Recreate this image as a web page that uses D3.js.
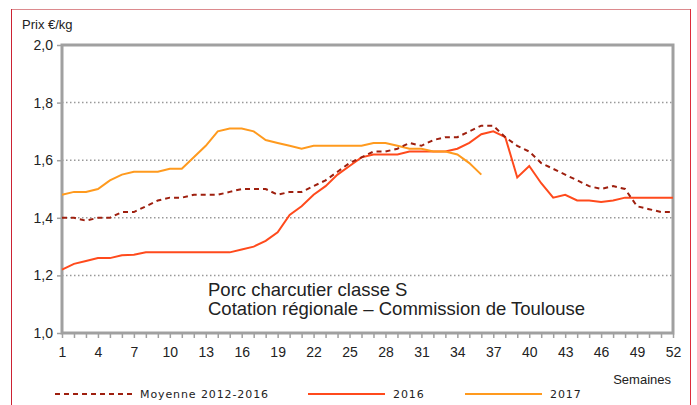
<!DOCTYPE html>
<html>
<head>
<meta charset="utf-8">
<script src="https://cdn.jsdelivr.net/npm/d3@7"></script>
<style>
  body { margin: 0; background: #fff; }
  svg text { font-family: "Liberation Sans", Arial, sans-serif; fill: #222; }
  .legend text { font-family: "DejaVu Sans", sans-serif; font-size: 11px; letter-spacing: 0.9px; }
</style>
</head>
<body>
<div id="chart"></div>
<script>
// weeks 1..52
const weeks = d3.range(1, 53)
const xTickLabels = [1, 4, 7, 10, 13, 16, 19, 22, 25, 28, 31, 34, 37, 40, 43, 46, 49, 52]
const yTicks = [1.0, 1.2, 1.4, 1.6, 1.8, 2.0]

const moyenne = [1.40, 1.40, 1.39, 1.40, 1.40, 1.42, 1.42, 1.44, 1.46, 1.47, 1.47, 1.48, 1.48, 1.48, 1.49, 1.50, 1.50, 1.50, 1.48, 1.49,
	1.49, 1.51, 1.53, 1.56, 1.59, 1.61, 1.63, 1.63, 1.64, 1.66, 1.65, 1.67, 1.68, 1.68, 1.70, 1.72, 1.72, 1.68, 1.65, 1.63,
	1.59, 1.57, 1.55, 1.53, 1.51, 1.50, 1.51, 1.50, 1.44, 1.43, 1.42, 1.42]

const y2016 = [1.22, 1.24, 1.25, 1.26, 1.26, 1.27, 1.272, 1.28, 1.28, 1.28, 1.28, 1.28, 1.28, 1.28, 1.28, 1.29, 1.30, 1.32, 1.35, 1.41,
	1.44, 1.48, 1.51, 1.55, 1.58, 1.61, 1.62, 1.62, 1.62, 1.63, 1.63, 1.63, 1.63, 1.64, 1.66, 1.69, 1.70, 1.68, 1.54, 1.58,
	1.52, 1.47, 1.48, 1.46, 1.46, 1.455, 1.46, 1.47, 1.47, 1.47, 1.47, 1.47]

const y2017 = [1.48, 1.49, 1.49, 1.50, 1.53, 1.55, 1.56, 1.56, 1.56, 1.57, 1.57, 1.61, 1.65, 1.70, 1.71, 1.71, 1.70, 1.67, 1.66, 1.65,
	1.64, 1.65, 1.65, 1.65, 1.65, 1.65, 1.66, 1.66, 1.65, 1.64, 1.64, 1.63, 1.63, 1.62, 1.59, 1.55]

const seriesNames = ['Moyenne 2012-2016', '2016', '2017']
const seriesColors = ['#9e1f0e', '#ff4a1c', '#ff9a1e']

const width = 697, height = 405
const margin = { left: 62, right: 24, top: 45, bottom: 72 }

const svg = d3.select('#chart').append('svg')
	.attr('width', width)
	.attr('height', height)

// outer frame
svg.append('line').attr('x1', 11).attr('x2', 691).attr('y1', 9.5).attr('y2', 9.5)
	.attr('stroke', '#dc8a8e').attr('stroke-width', 1)
svg.append('line').attr('x1', 11.5).attr('x2', 11.5).attr('y1', 9).attr('y2', height)
	.attr('stroke', '#cc2233').attr('stroke-width', 1)
svg.append('line').attr('x1', 690.5).attr('x2', 690.5).attr('y1', 9).attr('y2', height)
	.attr('stroke', '#dd2a3a').attr('stroke-width', 1)

const x = d3.scaleLinear()
	.domain([1, 52])
	.range([margin.left, width - margin.right])

const y = d3.scaleLinear()
	.domain([1.0, 2.0])
	.range([height - margin.bottom, margin.top])

// grid
svg.append('g')
	.selectAll('line')
	.data([1.2, 1.4, 1.6, 1.8])
	.enter()
	.append('line')
	.attr('x1', x(1)).attr('x2', x(52))
	.attr('y1', d => y(d)).attr('y2', d => y(d))
	.attr('stroke', '#999')
	.attr('stroke-width', 1.5)
	.attr('stroke-dasharray', '1.5,2.5')

// plot frame
svg.append('rect')
	.attr('x', x(1)).attr('y', y(2))
	.attr('width', x(52) - x(1)).attr('height', y(1) - y(2))
	.attr('fill', 'none')
	.attr('stroke', '#a0a0a0')
	.attr('stroke-width', 3)

// x axis
let xAxis = svg.append('g')
	.attr('transform', 'translate(0,' + y(1) + ')')
	.call(d3.axisBottom(x)
		.tickValues(weeks)
		.tickSize(5)
		.tickFormat(d => xTickLabels.includes(d) ? d : ''))
xAxis.select('.domain').remove()
xAxis.selectAll('line').attr('stroke', '#a0a0a0').attr('stroke-width', 1.5).attr('y1', 1)
xAxis.selectAll('text')
	.attr('y', 14)
	.style('font-size', '14px')
	.style('font-family', '"Liberation Sans", Arial, sans-serif')
	.attr('fill', '#222')

// y axis
let yAxis = svg.append('g')
	.attr('transform', 'translate(' + x(1) + ',0)')
	.call(d3.axisLeft(y)
		.tickValues(yTicks)
		.tickSize(5)
		.tickFormat(d => d3.format('.1f')(d).replace('.', ',')))
yAxis.select('.domain').remove()
yAxis.selectAll('line').attr('stroke', '#a0a0a0').attr('stroke-width', 1.5)
yAxis.selectAll('text')
	.attr('x', -9)
	.style('font-size', '14px')
	.style('font-family', '"Liberation Sans", Arial, sans-serif')
	.attr('fill', '#222')

svg.append('text').attr('x', 22).attr('y', 29).style('font-size', '13px').text('Prix €/kg')
svg.append('text').attr('x', 671).attr('y', 384).attr('text-anchor', 'end').style('font-size', '13px').text('Semaines')

svg.append('text').attr('x', 208).attr('y', 296).style('font-size', '18.5px').text('Porc charcutier classe S')
svg.append('text').attr('x', 208).attr('y', 315).style('font-size', '18.5px').text('Cotation régionale – Commission de Toulouse')

const line = d3.line()
	.x((d, i) => x(weeks[i]))
	.y(d => y(d))

const series = [moyenne, y2016, y2017]

svg.append('g')
	.selectAll('path')
	.data([1, 2, 0])
	.enter()
	.append('path')
	.attr('d', k => line(series[k]))
	.attr('fill', 'none')
	.attr('stroke', k => seriesColors[k])
	.attr('stroke-width', 2)
	.attr('stroke-dasharray', k => k == 0 ? '5,4' : null)

// legend
const legendPos = [55, 308, 465]
let legend = svg.append('g').attr('class', 'legend')
	.selectAll('g')
	.data(seriesNames)
	.enter()
	.append('g')
	.attr('transform', (d, i) => 'translate(' + legendPos[i] + ',394)')

legend.append('line')
	.attr('x1', 0).attr('x2', (d, i) => i == 0 ? 78 : 77)
	.attr('stroke', (d, i) => seriesColors[i])
	.attr('stroke-width', 2)
	.attr('stroke-dasharray', (d, i) => i == 0 ? '5,4' : null)

legend.append('text')
	.attr('x', 85)
	.attr('y', 4)
	.text(d => d)
</script>
</body>
</html>
